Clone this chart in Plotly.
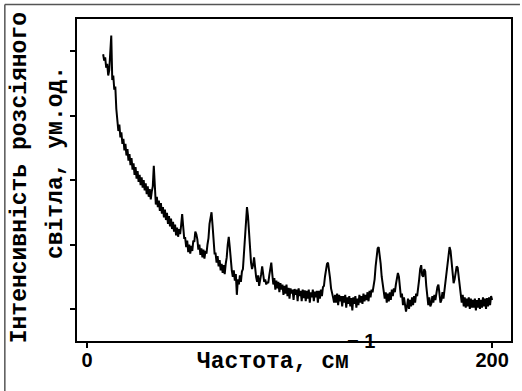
import plotly.graph_objects as go

# Raman spectrum: wavenumber (cm^-1) from 8 to 200 in steps of 0.5
x_start = 8.0
x_step = 0.5
intensity = [
    4.95, 4.85, 4.90, 4.74, 4.80, 4.62, 4.70, 4.95, 5.24, 4.55,   # 8.0-12.5
    4.62, 4.40, 4.45, 4.10, 3.92, 3.76, 3.86, 3.66, 3.74, 3.56,   # 13.0-17.5
    3.64, 3.46, 3.56, 3.38, 3.48, 3.30, 3.40, 3.23, 3.34, 3.16,   # 18.0-22.5
    3.26, 3.08, 3.20, 3.02, 3.14, 2.97, 3.08, 2.92, 3.04, 2.88,   # 23.0-27.5
    3.00, 2.84, 2.95, 2.78, 2.90, 2.74, 2.86, 2.70, 2.82, 2.90,   # 28.0-32.5
    3.22, 2.80, 2.62, 2.74, 2.58, 2.68, 2.52, 2.64, 2.48, 2.58,   # 33.0-37.5
    2.42, 2.54, 2.38, 2.49, 2.32, 2.44, 2.28, 2.40, 2.24, 2.35,   # 38.0-42.5
    2.20, 2.31, 2.14, 2.26, 2.12, 2.24, 2.16, 2.30, 2.47, 2.28,   # 43.0-47.5
    2.10, 2.10, 1.96, 2.06, 1.88, 2.00, 1.86, 1.98, 1.90, 2.06,   # 48.0-52.5
    2.04, 2.20, 2.16, 2.08, 1.92, 2.00, 1.84, 1.94, 1.80, 1.92,   # 53.0-57.5
    1.78, 1.90, 1.86, 2.00, 2.10, 2.32, 2.44, 2.50, 2.30, 2.08,   # 58.0-62.5
    1.86, 1.86, 1.72, 1.82, 1.66, 1.76, 1.60, 1.70, 1.56, 1.68,   # 63.0-67.5
    1.54, 1.70, 1.80, 2.00, 2.12, 1.96, 1.74, 1.60, 1.50, 1.60,   # 68.0-72.5
    1.44, 1.54, 1.22, 1.46, 1.38, 1.52, 1.42, 1.58, 1.62, 1.90,   # 73.0-77.5
    2.20, 2.48, 2.58, 2.44, 2.20, 1.92, 1.72, 1.62, 1.68, 1.80,   # 78.0-82.5
    1.62, 1.50, 1.42, 1.52, 1.36, 1.50, 1.54, 1.66, 1.52, 1.42,   # 83.0-87.5
    1.46, 1.38, 1.42, 1.40, 1.52, 1.66, 1.72, 1.54, 1.38, 1.48,   # 88.0-92.5
    1.30, 1.44, 1.32, 1.42, 1.26, 1.40, 1.30, 1.38, 1.22, 1.36,   # 93.0-97.5
    1.24, 1.38, 1.20, 1.33, 1.16, 1.32, 1.24, 1.30, 1.14, 1.31,   # 98.0-102.5
    1.22, 1.30, 1.12, 1.32, 1.20, 1.28, 1.12, 1.30, 1.17, 1.29,   # 103.0-107.5
    1.12, 1.28, 1.16, 1.30, 1.10, 1.26, 1.18, 1.30, 1.12, 1.27,   # 108.0-112.5
    1.18, 1.28, 1.10, 1.28, 1.16, 1.30, 1.20, 1.34, 1.36, 1.50,   # 113.0-117.5
    1.62, 1.70, 1.72, 1.62, 1.48, 1.32, 1.22, 1.18, 1.10, 1.22,   # 118.0-122.5
    1.10, 1.24, 1.06, 1.22, 1.12, 1.20, 1.04, 1.20, 1.10, 1.22,   # 123.0-127.5
    1.02, 1.18, 1.08, 1.20, 1.04, 1.17, 0.98, 1.18, 1.08, 1.20,   # 128.0-132.5
    1.02, 1.16, 1.06, 1.22, 1.10, 1.20, 1.08, 1.24, 1.12, 1.22,   # 133.0-137.5
    1.14, 1.26, 1.12, 1.28, 1.18, 1.30, 1.26, 1.36, 1.46, 1.66,   # 138.0-142.5
    1.80, 1.94, 1.96, 1.86, 1.70, 1.50, 1.36, 1.28, 1.16, 1.26,   # 143.0-147.5
    1.10, 1.24, 1.12, 1.26, 1.14, 1.30, 1.20, 1.32, 1.26, 1.38,   # 148.0-152.5
    1.50, 1.56, 1.50, 1.34, 1.18, 1.24, 1.06, 1.18, 1.04, 0.96,   # 153.0-157.5
    1.04, 1.16, 1.00, 1.14, 1.04, 1.18, 1.06, 1.20, 1.10, 1.24,   # 158.0-162.5
    1.20, 1.30, 1.46, 1.62, 1.68, 1.52, 1.50, 1.62, 1.58, 1.36,   # 163.0-167.5
    1.14, 1.06, 1.18, 1.04, 1.08, 1.20, 1.10, 1.22, 1.14, 1.28,   # 168.0-172.5
    1.34, 1.38, 1.20, 1.10, 1.14, 1.26, 1.16, 1.30, 1.36, 1.52,   # 173.0-177.5
    1.70, 1.88, 1.96, 1.90, 1.72, 1.52, 1.40, 1.46, 1.56, 1.66,   # 178.0-182.5
    1.64, 1.50, 1.32, 1.24, 1.10, 1.22, 1.04, 1.18, 1.02, 1.16,   # 183.0-187.5
    1.04, 1.18, 1.00, 1.16, 1.02, 1.14, 1.02, 1.16, 0.98, 1.14,   # 188.0-192.5
    1.02, 1.17, 1.00, 1.14, 1.02, 1.18, 1.04, 1.16, 1.00, 1.17,   # 193.0-197.5
    1.04, 1.18, 1.06, 1.20, 1.14,                                 # 198.0-200.0
]
wavenumber = [x_start + x_step * i for i in range(len(intensity))]

x_tick_vals = [0, 200]
x_tick_text = ["0", "200"]
y_tick_vals = [1, 2, 3, 4, 5]

y_title_1 = "Інтенсивність розсіяного"
y_title_2 = "світла, ум.од."
x_title = "Частота, см"
x_title_sup = "− 1"

fig = go.Figure()
fig.add_trace(go.Scatter(x=wavenumber, y=intensity, mode="lines",
                         line=dict(color="black", width=2), showlegend=False))

fig.update_layout(
    width=522, height=391,
    margin=dict(l=77, r=9, t=19, b=50),
    paper_bgcolor="white", plot_bgcolor="white",
    xaxis=dict(range=[-4.91, 209.33], tickvals=x_tick_vals, ticktext=x_tick_text,
               ticks="outside", ticklen=5, tickwidth=2, tickcolor="black",
               ticklabelstandoff=-5,
               showline=True, linecolor="black", linewidth=2, mirror=True,
               showgrid=False, zeroline=False,
               tickfont=dict(family="Liberation Sans", size=20, color="black", weight="bold")),
    yaxis=dict(range=[0.504, 5.496], tickvals=y_tick_vals, showticklabels=False,
               ticks="outside", ticklen=5, tickwidth=1.5, tickcolor="black",
               showline=True, linecolor="black", linewidth=2, mirror=True,
               showgrid=False, zeroline=False),
)

title_font = dict(family="Liberation Mono", size=23, color="black", weight="bold")
fig.add_annotation(text=y_title_1, xref="paper", yref="paper",
                   x=(20 - 77) / 436, y=(341 - 178) / 322, textangle=-90,
                   showarrow=False, font=title_font, xanchor="center", yanchor="middle")
fig.add_annotation(text=y_title_2, xref="paper", yref="paper",
                   x=(56 - 77) / 436, y=(341 - 163) / 322, textangle=-90,
                   showarrow=False, font=title_font, xanchor="center", yanchor="middle")
fig.add_annotation(text=x_title, xref="paper", yref="paper",
                   x=(196 - 77) / 436, y=(341 - 362) / 322,
                   showarrow=False, font=title_font, xanchor="left", yanchor="middle")
fig.add_annotation(text=x_title_sup, xref="paper", yref="paper",
                   x=(346 - 77) / 436, y=(341 - 341) / 322,
                   showarrow=False, xanchor="left", yanchor="middle",
                   font=dict(family="Liberation Sans", size=20, color="black", weight="bold"))

# outer frame of the figure (left and top edges)
fig.add_shape(type="line", xref="paper", yref="paper",
              x0=(4.5 - 77) / 436, x1=(522 - 77) / 436, y0=(341 - 4.5) / 322, y1=(341 - 4.5) / 322,
              line=dict(color="#555555", width=1.5))
fig.add_shape(type="line", xref="paper", yref="paper",
              x0=(4.5 - 77) / 436, x1=(4.5 - 77) / 436, y0=(341 - 4.5) / 322, y1=(341 - 391) / 322,
              line=dict(color="#555555", width=1.5))

fig.write_html("out.html", config={"displayModeBar": False},
               post_script="document.body.style.margin='0';")
